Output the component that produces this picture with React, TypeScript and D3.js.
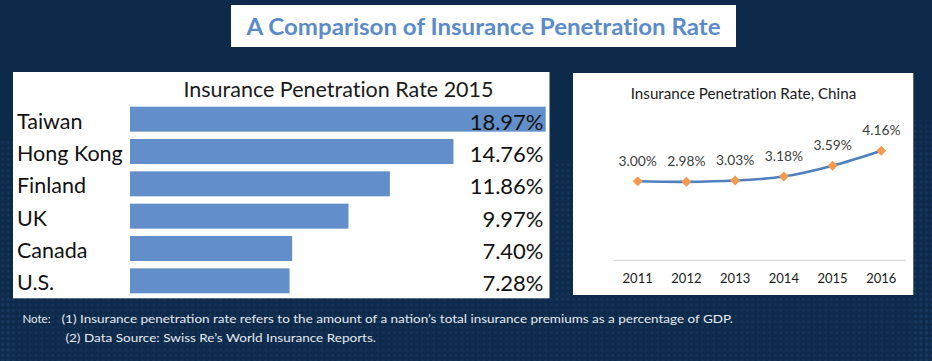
import React from "react";
import * as d3 from "d3";

const countries = ["Taiwan", "Hong Kong", "Finland", "UK", "Canada", "U.S."];
const rates2015 = [18.97, 14.76, 11.86, 9.97, 7.4, 7.28];
const years = ["2011", "2012", "2013", "2014", "2015", "2016"];
const chinaRates = [3.0, 2.98, 3.03, 3.18, 3.59, 4.16];

const mainTitle = "A Comparison of Insurance Penetration Rate";
const barTitle = "Insurance Penetration Rate 2015";
const lineTitle = "Insurance Penetration Rate, China";
const noteLabel = "Note:";
const noteLines = [
  "(1) Insurance penetration rate refers to the amount of a nation\u2019s total insurance premiums as a percentage of GDP.",
  "(2) Data Source: Swiss Re\u2019s World Insurance Reports.",
];

const W = 932;
const H = 361;
const FONT = "Lato, Carlito, 'Open Sans', sans-serif";

export default function App() {
  const xBar = d3.scaleLinear().domain([0, 18.97]).range([130, 545.7]);
  const yBar = d3
    .scaleBand<string>()
    .domain(countries)
    .range([103, 297])
    .paddingInner(0.227)
    .paddingOuter(0.1135);

  const xLine = d3.scaleBand<string>().domain(years).range([613.3, 905.7]);
  const yLine = d3.scaleLinear().domain([0, 5]).range([260.3, 128.65]);
  const cx = (yr: string) => (xLine(yr) as number) + xLine.bandwidth() / 2;

  const pts: [number, number][] = years.map((yr, i) => [cx(yr), yLine(chinaRates[i])]);
  const lineGen = d3.line().curve(d3.curveCatmullRom.alpha(0.5));
  const linePath = lineGen(pts) || "";

  return (
    <svg
      width={W}
      height={H}
      style={{ position: "absolute", left: 0, top: 0, display: "block" }}
      fontFamily={FONT}
    >
      <defs>
        <pattern id="dots" width="5.6" height="5.6" patternUnits="userSpaceOnUse">
          <rect x="1" y="1" width="3" height="3" fill="#1c3d66" opacity="0.55" />
        </pattern>
        <linearGradient id="fadeL" x1="0" x2="0" y1="0" y2="1">
          <stop offset="0" stopColor="#fff" stopOpacity="0" />
          <stop offset="0.45" stopColor="#fff" stopOpacity="1" />
          <stop offset="1" stopColor="#fff" stopOpacity="1" />
        </linearGradient>
        <mask id="dotMask">
          <rect x="0" y="0" width={W} height={H} fill="url(#fadeL)" />
        </mask>
      </defs>
      <rect x={0} y={0} width={W} height={H} fill="#0e2a4b" />
      <g mask="url(#dotMask)">
        <rect x={0} y={140} width={14} height={221} fill="url(#dots)" />
        <rect x={912} y={120} width={20} height={241} fill="url(#dots)" />
        <rect x={0} y={298} width={W} height={63} fill="url(#dots)" opacity="0.8" />
        <rect x={553} y={160} width={20} height={140} fill="url(#dots)" />
      </g>

      {/* Main title */}
      <rect x={231} y={5} width={505} height={42} fill="#ffffff" />
      <text
        x={483.6}
        y={35}
        textAnchor="middle"
        fontSize={22}
        fontWeight={700}
        fill="#5b8bc9"
        textLength={474}
        lengthAdjust="spacingAndGlyphs"
        style={{ fontVariantLigatures: "none" }}
      >
        {mainTitle}
      </text>

      {/* Left panel: bar chart */}
      <rect x={13} y={72} width={536.5} height={226.3} fill="#ffffff" />
      <text
        x={338.5}
        y={97.3}
        textAnchor="middle"
        fontSize={21.5}
        fill="#1a1a1a"
        style={{ fontVariantLigatures: "none" }}
      >
        {barTitle}
      </text>
      {countries.map((c, i) => {
        const y0 = yBar(c) as number;
        const bh = yBar.bandwidth();
        const mid = y0 + bh / 2;
        return (
          <g key={c}>
            <rect x={xBar(0)} y={y0} width={xBar(rates2015[i]) - xBar(0)} height={bh} fill="#628fc9" />
            <text x={17} y={mid + 9.5} fontSize={21.5} fill="#111111">
              {c}
            </text>
            <text x={543.5} y={mid + 10.5} fontSize={22} textAnchor="end" fill="#111111">
              {rates2015[i].toFixed(2) + "%"}
            </text>
          </g>
        );
      })}

      {/* Right panel: line chart */}
      <rect x={573} y={73} width={340.3} height={222} fill="#ffffff" />
      <text
        x={743.5}
        y={99.3}
        textAnchor="middle"
        fontSize={15.2}
        fill="#1a1a1a"
        style={{ fontVariantLigatures: "none" }}
      >
        {lineTitle}
      </text>
      <line x1={613.3} x2={905.7} y1={260.3} y2={260.3} stroke="#d9d9d9" strokeWidth={1.2} />
      {years.map((yr) => (
        <text key={yr} x={cx(yr)} y={283} textAnchor="middle" fontSize={13} fill="#1a1a1a">
          {yr}
        </text>
      ))}
      <path d={linePath} fill="none" stroke="#4f7fbe" strokeWidth={2.6} strokeLinecap="round" />
      {pts.map(([px, py], i) => (
        <g key={years[i]}>
          <path
            d={`M${px},${py - 5} L${px + 5},${py} L${px},${py + 5} L${px - 5},${py} Z`}
            fill="#f39a4f"
          />
          <text x={px} y={py - 15.5} textAnchor="middle" fontSize={13.8} fill="#404040">
            {chinaRates[i].toFixed(2) + "%"}
          </text>
        </g>
      ))}

      {/* Notes */}
      <text x={22.5} y={323.3} fontSize={11.5} fill="#e6eaf0">
        {noteLabel}
      </text>
      <text x={61.5} y={323.3} fontSize={11.5} fill="#e6eaf0" textLength={671.5} lengthAdjust="spacingAndGlyphs">
        {noteLines[0]}
      </text>
      <text x={65.4} y={341.7} fontSize={11.5} fill="#e6eaf0" textLength={310.6} lengthAdjust="spacingAndGlyphs">
        {noteLines[1]}
      </text>
    </svg>
  );
}
